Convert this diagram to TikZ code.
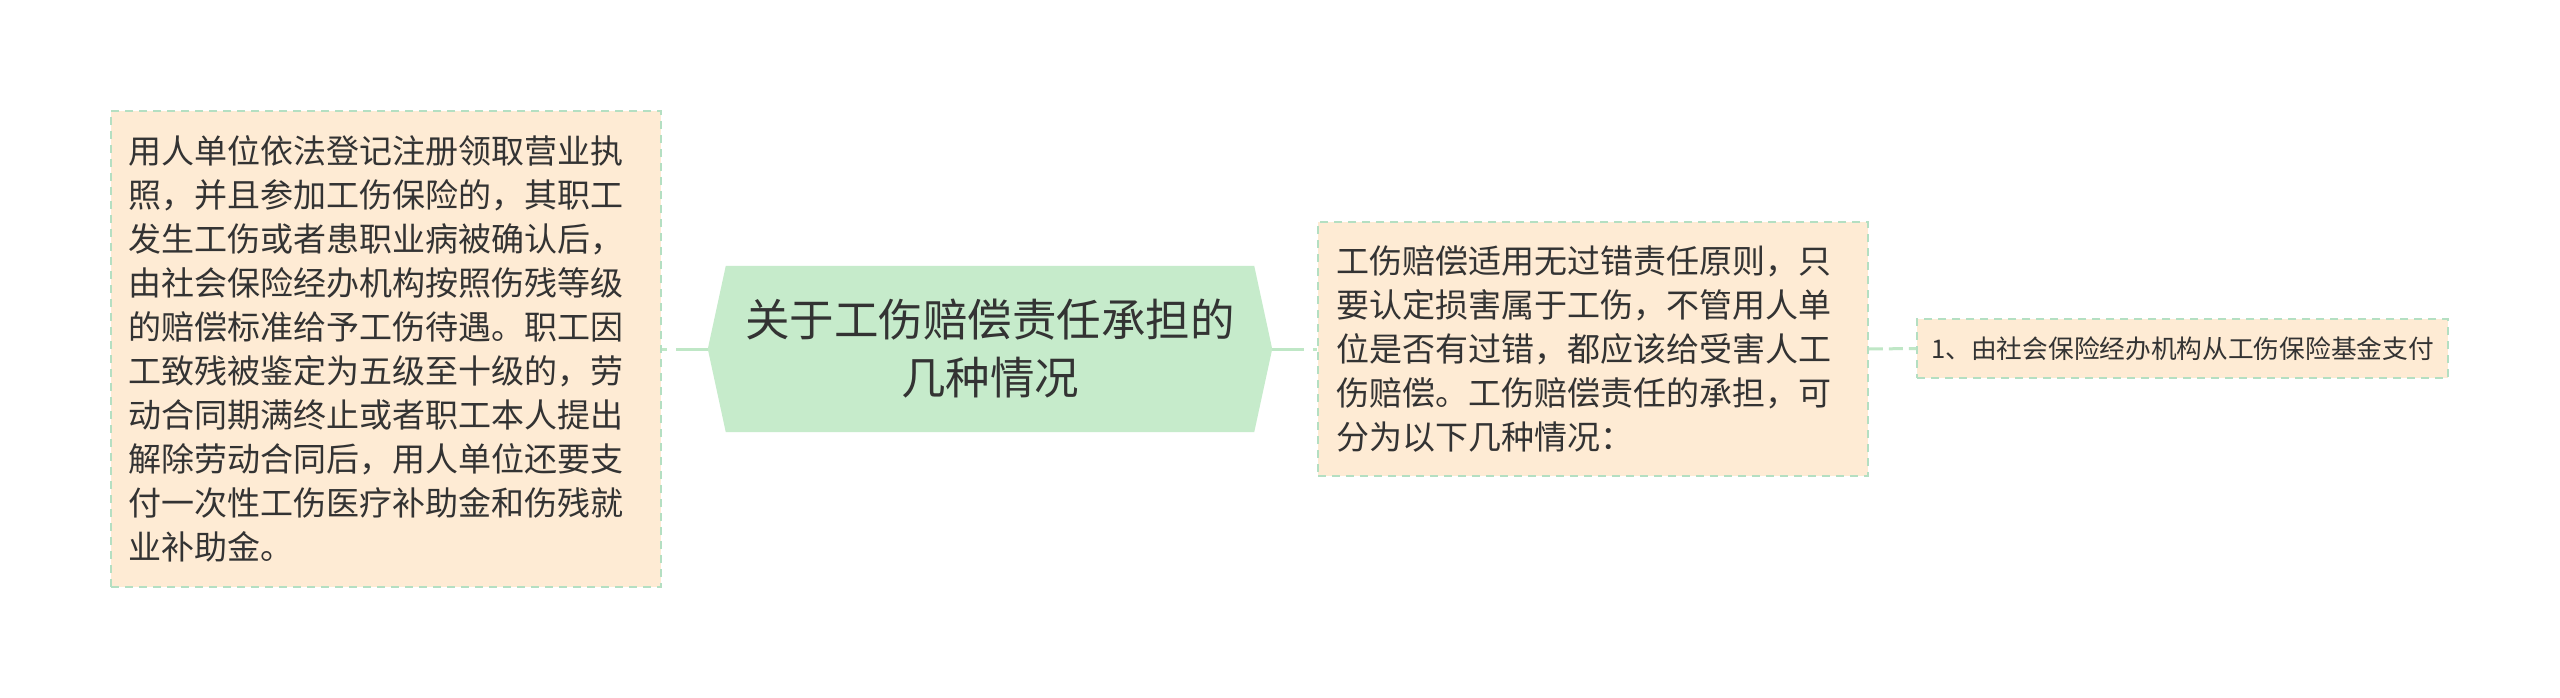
\documentclass[tikz,border=0pt]{standalone}
\usepackage{fontspec}
\newfontfamily\cjk{Noto Sans CJK SC}
\usetikzlibrary{backgrounds}
\definecolor{boxfill}{HTML}{FEEBD4}
\definecolor{boxline}{HTML}{B4DFC2}
\definecolor{hexfill}{HTML}{C6EBCB}
\definecolor{linkcol}{HTML}{BFE7C6}
\definecolor{txt}{HTML}{333333}
\begin{document}
\begin{tikzpicture}[x=1pt,y=-1pt,
  note/.style={rectangle, draw=boxline, fill=boxfill, line width=1.8pt,
    dash pattern=on 8pt off 6pt, text=txt, inner ysep=0pt, anchor=center},
  bodytext/.style={font=\cjk\fontsize{33}{44}\selectfont, align=left},
  link/.style={draw=linkcol, line width=3pt}]
\useasboundingbox (0,0) rectangle (2560,698);

\node[note, bodytext, text width=516pt, inner xsep=17pt, minimum height=476pt] (left) at (386,349)
 {用人单位依法登记注册领取营业执\\照，并且参加工伤保险的，其职工\\发生工伤或者患职业病被确认后，\\由社会保险经办机构按照伤残等级\\的赔偿标准给予工伤待遇。职工因\\工致残被鉴定为五级至十级的，劳\\动合同期满终止或者职工本人提出\\解除劳动合同后，用人单位还要支\\付一次性工伤医疗补助金和伤残就\\业补助金。};

\node[text=txt, align=center, minimum width=564pt, minimum height=166pt, inner sep=0pt,
  font=\cjk\fontsize{44.5}{58}\selectfont] (hex) at (990,349)
 {关于工伤赔偿责任承担的\\几种情况};

\node[note, bodytext, text width=514pt, inner xsep=18pt, minimum height=254pt] (mid) at (1593,349)
 {工伤赔偿适用无过错责任原则，只\\要认定损害属于工伤，不管用人单\\位是否有过错，都应该给受害人工\\伤赔偿。工伤赔偿责任的承担，可\\分为以下几种情况：};

\node[note, align=center, minimum width=531pt, minimum height=59pt, inner xsep=14pt,
  font=\cjk\fontsize{25.7}{30}\selectfont] (rbox) at (2182.5,348.5)
 {1、由社会保险经办机构从工伤保险基金支付};

\begin{scope}[on background layer]
  \fill[white] (0,0) rectangle (2560,698);
  \fill[hexfill] (hex.west) -- ([xshift=18pt]hex.north west) -- ([xshift=-18pt]hex.north east)
    -- (hex.east) -- ([xshift=-18pt]hex.south east) -- ([xshift=18pt]hex.south west) -- cycle;
\end{scope}

\draw[link, dash pattern=on 32pt off 9pt] (hex.west) -- (left.east);
\draw[link, dash pattern=on 32pt off 9pt] (hex.east) -- (mid.west);
\draw[link, dash pattern=on 14pt off 6pt] (mid.east) -- (rbox.west);
\end{tikzpicture}
\end{document}
